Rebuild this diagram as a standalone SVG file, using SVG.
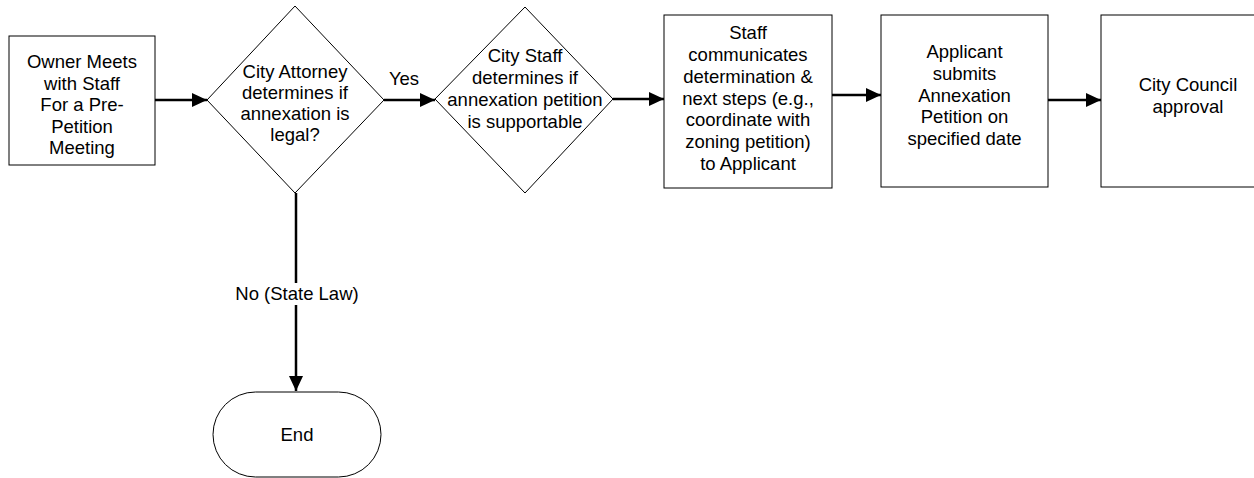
<svg xmlns="http://www.w3.org/2000/svg" width="1254" height="478" viewBox="0 0 1254 478">
<style>
.shape{fill:#fff;stroke:#000;stroke-width:1}
.conn{fill:none;stroke:#000;stroke-width:2.5}
text{font-family:"Liberation Sans",Arial,sans-serif;font-size:18.5px;fill:#000;text-anchor:middle}
</style>
<defs>
<marker id="ah" markerUnits="userSpaceOnUse" markerWidth="16" markerHeight="15" refX="15" refY="7" orient="auto">
<path d="M0,0 L15,7 L0,14 z" fill="#000"/>
</marker>
</defs>
<rect width="1254" height="478" fill="#fff"/>
<g id="connectors">
<line class="conn" x1="155" y1="100" x2="207" y2="100" marker-end="url(#ah)"/>
<line class="conn" x1="384" y1="100" x2="435" y2="100" marker-end="url(#ah)"/>
<line class="conn" x1="613" y1="99" x2="664" y2="99" marker-end="url(#ah)"/>
<line class="conn" x1="832" y1="95" x2="881" y2="95" marker-end="url(#ah)"/>
<line class="conn" x1="1048" y1="100" x2="1101" y2="100" marker-end="url(#ah)"/>
<line class="conn" x1="296" y1="193" x2="296" y2="391" marker-end="url(#ah)"/>
<text x="404" y="85">Yes</text>
<rect x="236" y="283" width="122" height="22" fill="#fff"/>
<text x="297" y="300">No (State Law)</text>
</g>
<g id="n1">
<rect class="shape" x="9" y="36" width="146" height="129"/>
<text x="82"><tspan x="82" y="68">Owner Meets</tspan><tspan x="82" y="89.5">with Staff</tspan><tspan x="82" y="111">For a Pre-</tspan><tspan x="82" y="132.5">Petition</tspan><tspan x="82" y="154">Meeting</tspan></text>
</g>
<g id="n2">
<polygon class="shape" points="295,6 384,100 295,193 207,100"/>
<text><tspan x="295" y="78">City Attorney</tspan><tspan x="295" y="99">determines if</tspan><tspan x="295" y="120">annexation is</tspan><tspan x="295" y="141">legal?</tspan></text>
</g>
<g id="n3">
<polygon class="shape" points="525,7 613,99 525,193 435,99"/>
<text><tspan x="525" y="62">City Staff</tspan><tspan x="525" y="84">determines if</tspan><tspan x="525" y="106">annexation petition</tspan><tspan x="525" y="128">is supportable</tspan></text>
</g>
<g id="n4">
<rect class="shape" x="664" y="15" width="168" height="173"/>
<text><tspan x="748" y="39">Staff</tspan><tspan x="748" y="61">communicates</tspan><tspan x="748" y="83">determination &amp;</tspan><tspan x="748" y="104.5">next steps (e.g.,</tspan><tspan x="748" y="126">coordinate with</tspan><tspan x="748" y="148">zoning petition)</tspan><tspan x="748" y="170">to Applicant</tspan></text>
</g>
<g id="n5">
<rect class="shape" x="881" y="15" width="167" height="172"/>
<text><tspan x="964.5" y="58">Applicant</tspan><tspan x="964.5" y="80">submits</tspan><tspan x="964.5" y="101.5">Annexation</tspan><tspan x="964.5" y="123">Petition on</tspan><tspan x="964.5" y="145">specified date</tspan></text>
</g>
<g id="n6">
<rect class="shape" x="1101" y="15" width="174" height="172"/>
<text><tspan x="1188" y="91">City Council</tspan><tspan x="1188" y="112.5">approval</tspan></text>
</g>
<g id="n7">
<rect class="shape" x="213" y="392" width="168" height="85" rx="42.5" ry="42.5"/>
<text x="297" y="441">End</text>
</g>
</svg>
